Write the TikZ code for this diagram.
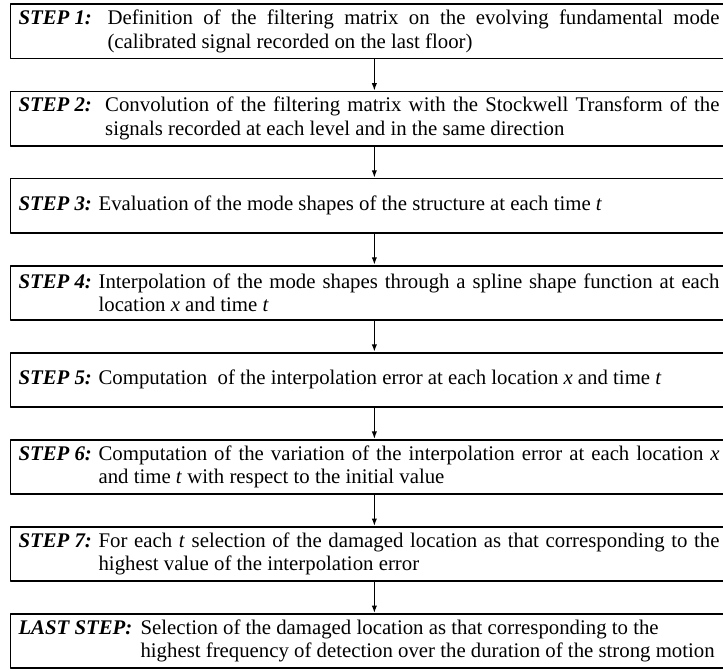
\documentclass[tikz,border=0pt]{standalone}
\usepackage{fontspec}
\setmainfont{Liberation Serif}
\usepackage{tikz}
\usetikzlibrary{arrows.meta,positioning}
\tikzset{
every picture/.style={line cap=round,line join=round},
>={Latex[length=5.5pt,width=4pt]},
step box/.style={
  draw=black,
  line width=1.4pt,
  minimum height=40.6pt,
  text width=525.75pt,
  inner xsep=6pt,
  inner ysep=1pt,
  align=justify,
  font=\fontsize{15.6}{17.6}\selectfont
},
step flow/.style={
  draw=black,
  ->,
  line width=0.9pt
}
}
% optional argument: where the text after the label starts
\newcommand{\stepitem}[3][]{%
  \setbox0=\hbox{\textbf{\textit{#2}}\hspace{5pt}}%
  \ifx\relax#1\relax\else\setbox0=\hbox to #1{\unhbox0\hfil}\fi
  \noindent\copy0\parbox[t]{\dimexpr\hsize-\wd0\relax}{\tolerance=9999 #3}}

\begin{document}
\begin{tikzpicture}
\clip (0,0) rectangle (542.25pt,-502.5pt);
\node[step box,anchor=north west] (step1) at (7.2pt,-2.6pt)
  {\stepitem[66.75pt]{STEP 1:}{Definition of the filtering matrix on the evolving fundamental mode\linebreak (calibrated signal recorded on the last floor)}};
\node[step box,below=23.3pt of step1] (step2)
  {\stepitem[65pt]{STEP 2:}{Convolution of the filtering matrix with the Stockwell Transform of the\linebreak signals recorded at each level and in the same direction}};
\node[step box,below=23.3pt of step2] (step3)
  {\stepitem{STEP 3:}{Evaluation of the mode shapes of the structure at each time \textit{t}}};
\node[step box,below=23.3pt of step3] (step4)
  {\stepitem{STEP 4:}{Interpolation of the mode shapes through a spline shape function at each\linebreak location \textit{x} and time \textit{t}}};
\node[step box,below=23.3pt of step4] (step5)
  {\stepitem{STEP 5:}{Computation\ \ of the interpolation error at each location \textit{x} and time \textit{t}}};
\node[step box,below=23.3pt of step5] (step6)
  {\stepitem{STEP 6:}{Computation of the variation of the interpolation error at each location \textit{x}\linebreak and time \textit{t} with respect to the initial value}};
\node[step box,below=23.3pt of step6] (step7)
  {\stepitem{STEP 7:}{For each \textit{t} selection of the damaged location as that corresponding to the\linebreak highest value of the interpolation error}};
\node[step box,below=23.3pt of step7] (laststep)
  {\stepitem[91.5pt]{LAST STEP:}{Selection of the damaged location as that corresponding to the\newline highest frequency of detection over the duration of the strong motion}};
\draw[step flow] ([xshift=4pt]step1.south) -- ([xshift=4pt]step2.north);
\draw[step flow] ([xshift=4pt]step2.south) -- ([xshift=4pt]step3.north);
\draw[step flow] ([xshift=4pt]step3.south) -- ([xshift=4pt]step4.north);
\draw[step flow] ([xshift=4pt]step4.south) -- ([xshift=4pt]step5.north);
\draw[step flow] ([xshift=4pt]step5.south) -- ([xshift=4pt]step6.north);
\draw[step flow] ([xshift=4pt]step6.south) -- ([xshift=4pt]step7.north);
\draw[step flow] ([xshift=4pt]step7.south) -- ([xshift=4pt]laststep.north);
\end{tikzpicture}
\end{document}
